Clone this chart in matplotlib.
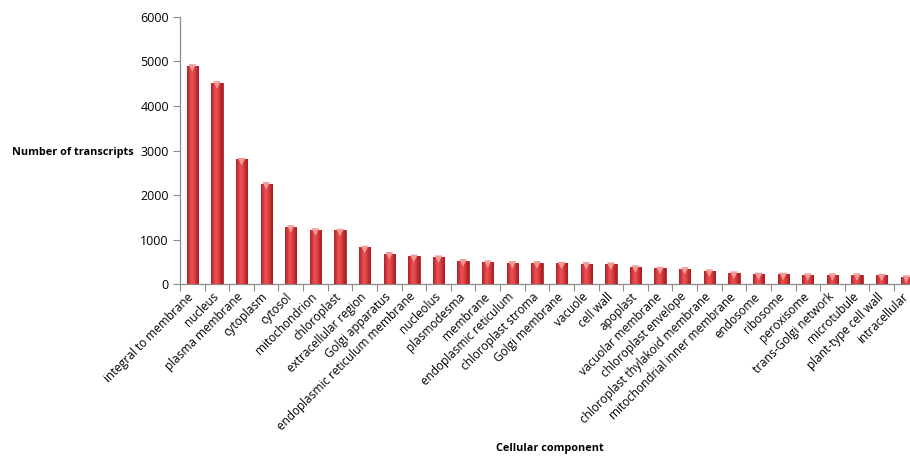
import numpy as np
import matplotlib
matplotlib.use("Agg")
import matplotlib.pyplot as plt
from matplotlib.colors import LinearSegmentedColormap
from matplotlib.transforms import ScaledTranslation

# Datos: componentes celulares y número de transcritos
components = [
    "integral to membrane", "nucleus", "plasma membrane", "cytoplasm", "cytosol",
    "mitochondrion", "chloroplast", "extracellular region", "Golgi apparatus",
    "endoplasmic reticulum membrane", "nucleolus", "plasmodesma", "membrane",
    "endoplasmic reticulum", "chloroplast stroma", "Golgi membrane", "vacuole",
    "cell wall", "apoplast", "vacuolar membrane", "chloroplast envelope",
    "chloroplast thylakoid membrane", "mitochondrial inner membrane", "endosome",
    "ribosome", "peroxisome", "trans-Golgi network", "microtubule",
    "plant-type cell wall", "intracellular",
]
transcripts = [
    4900, 4520, 2800, 2260, 1290, 1220, 1210, 830, 690, 630,
    612, 530, 500, 485, 485, 470, 463, 455, 390, 358,
    350, 300, 255, 225, 225, 210, 210, 210, 200, 165,
]
yticks = [0, 1000, 2000, 3000, 4000, 5000, 6000]

plt.rcParams['font.family'] = ['Open Sans', 'DejaVu Sans']

W, H = 910, 457
fig = plt.figure(figsize=(W / 100, H / 100), dpi=100)
n = len(components)
step = 24.62
ax = fig.add_axes([180 / W, (H - 284.3) / H, n * step / W, 267.6 / H])

x = np.arange(n)
bars = ax.bar(x, transcripts, width=0.46, color='#dc3c3e', edgecolor='#b02a2c',
              linewidth=0.6, zorder=3)

# Degradado tipo cilindro en cada barra
cmap = LinearSegmentedColormap.from_list(
    'cyl', ['#a82226', '#d63a3d', '#ea5355', '#e04345', '#c22e31', '#a01e22'])
grad = np.linspace(0, 1, 64).reshape(1, -1)
for b in bars:
    bx, by = b.get_x(), b.get_y()
    bw, bh = b.get_width(), b.get_height()
    im = ax.imshow(grad, cmap=cmap, aspect='auto', zorder=3,
                   extent=[bx, bx + bw, by, by + bh], interpolation='bilinear')
    im.set_clip_path(b)

# Tapa superior más clara
ax.scatter(x, np.array(transcripts) - 50, marker='v', s=30, color='#f39a9a',
           edgecolors='none', zorder=4)

ax.set_xlim(-0.5, n - 0.5)
ax.set_ylim(0, 6000)
ax.set_yticks(yticks)
ax.set_yticklabels([str(v) for v in yticks], fontsize=9)

# Etiquetas de categoría giradas 45° (como texto, desplazadas un poco a la izquierda)
ax.set_xticks(x)
ax.set_xticklabels([])
ax.tick_params(axis='x', length=0)
lab_tr = ax.get_xaxis_transform() + ScaledTranslation(-5 / 100, -6 / 100, fig.dpi_scale_trans)
for i, name in enumerate(components):
    ax.text(i, 0, name, transform=lab_tr, rotation=45, ha='right', va='top',
            rotation_mode='anchor', fontsize=8.5, clip_on=False)

ax.set_xticks(np.arange(n + 1) - 0.5, minor=True)
ax.tick_params(axis='x', which='minor', length=5, color='#8c8c8c', width=0.8)
ax.tick_params(axis='y', length=5, color='#8c8c8c', width=0.8, pad=3)

for s in ['top', 'right']:
    ax.spines[s].set_visible(False)
for s in ['left', 'bottom']:
    ax.spines[s].set_color('#8c8c8c')
    ax.spines[s].set_linewidth(0.9)

fig.text(12 / W, 1 - 152 / H, 'Number of transcripts', fontsize=7.8,
         fontweight='bold', ha='left', va='center')
fig.text(550 / W, 1 - 449 / H, 'Cellular component', fontsize=7.8,
         fontweight='bold', ha='center', va='center')

fig.savefig('out.png', dpi=100)
